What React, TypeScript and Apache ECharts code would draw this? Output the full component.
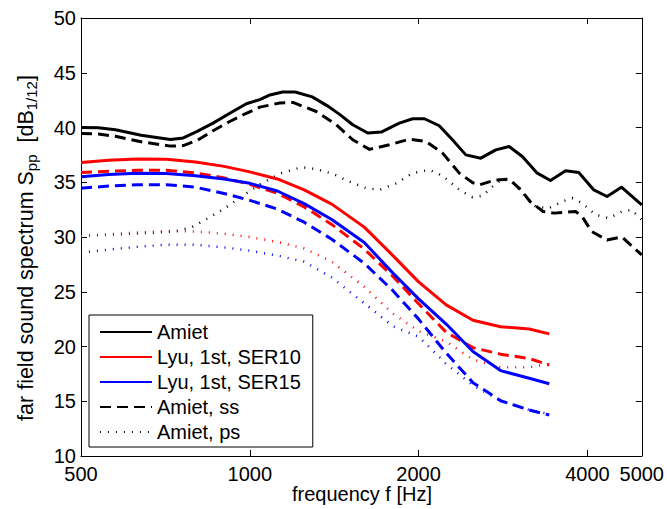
import React, { useEffect, useRef } from 'react';
import * as echarts from 'echarts';

// ---------- axis ticks ----------
const X_TICKS = [500, 1000, 2000, 4000, 5000];
const X_MIN = 500;
const X_MAX = 5000;
const Y_MIN = 10;
const Y_MAX = 50;
const Y_STEP = 5;

// ---------- Amiet (black) ----------
const AMIET_F = [500, 537, 576, 640, 722, 761, 804, 860, 921, 986, 1042, 1086, 1144, 1205, 1292, 1373, 1446, 1526, 1623, 1715, 1848, 1952, 2048, 2177, 2298, 2428, 2582, 2746, 2900, 3062, 3256, 3438, 3657, 3861, 4107, 4335, 4600, 5000];
const AMIET_V = [40.0, 39.97, 39.8, 39.3, 38.9, 39.05, 39.63, 40.4, 41.3, 42.17, 42.55, 42.97, 43.24, 43.24, 42.8, 42.0, 41.2, 40.25, 39.5, 39.58, 40.4, 40.8, 40.8, 40.16, 38.88, 37.5, 37.2, 37.96, 38.27, 37.35, 35.83, 35.16, 36.04, 35.89, 34.3, 33.7, 34.55, 32.93];

const AMIET_SS_F = [500, 537, 576, 640, 722, 761, 808, 860, 921, 986, 1042, 1130, 1194, 1314, 1426, 1526, 1634, 1774, 1925, 2062, 2207, 2364, 2495, 2565, 2740, 2900, 3045, 3160, 3335, 3490, 3810, 3914, 4070, 4335, 4611, 5000];
const AMIET_SS_V = [39.45, 39.4, 39.2, 38.7, 38.3, 38.35, 38.85, 39.7, 40.55, 41.3, 41.86, 42.23, 42.29, 41.46, 40.25, 38.88, 38.0, 38.42, 38.94, 38.72, 37.66, 35.83, 34.97, 34.76, 35.2, 35.28, 34.3, 33.24, 32.33, 32.18, 32.33, 31.87, 30.5, 29.73, 30.0, 28.36];

const AMIET_PS_F = [500, 560, 641, 736, 788, 843, 903, 967, 1049, 1139, 1236, 1314, 1406, 1506, 1612, 1703, 1823, 1952, 2089, 2207, 2364, 2495, 2600, 2708, 2820, 2940, 3062, 3233, 3415, 3606, 3757, 3914, 4136, 4366, 4611, 4800, 5000];
const AMIET_PS_V = [30.1, 30.2, 30.34, 30.5, 30.9, 31.72, 32.63, 33.7, 34.9, 35.83, 36.38, 36.2, 35.77, 35.06, 34.46, 34.3, 34.9, 35.83, 36.13, 35.6, 34.3, 33.64, 33.76, 34.6, 35.28, 35.06, 34.0, 32.78, 32.63, 33.24, 33.55, 33.09, 32.02, 31.72, 32.33, 32.48, 31.56];

// ---------- Lyu, 1st order (red = SER10, blue = SER15) ----------
const LYU_F = [500, 560, 630, 710, 800, 900, 1000, 1120, 1250, 1400, 1600, 1800, 2000, 2240, 2500, 2800, 3150, 3420];
const SER10_V = [36.8, 37.0, 37.13, 37.1, 36.85, 36.45, 35.95, 35.3, 34.3, 33.0, 30.9, 28.3, 25.9, 23.8, 22.4, 21.8, 21.6, 21.15];
const SER15_V = [35.5, 35.7, 35.82, 35.8, 35.6, 35.3, 34.9, 34.2, 33.05, 31.6, 29.5, 26.7, 24.35, 22.05, 19.55, 17.8, 17.1, 16.6];
const SER10_SS_V = [35.89, 36.0, 36.1, 36.1, 35.85, 35.4, 34.8, 34.0, 32.75, 31.15, 28.9, 26.4, 23.9, 21.3, 19.9, 19.3, 18.9, 18.3];
const SER15_SS_V = [34.46, 34.65, 34.78, 34.78, 34.55, 33.97, 33.35, 32.55, 31.35, 29.8, 27.6, 25.1, 22.5, 19.4, 16.7, 15.05, 14.2, 13.74];
const SER10_PS_V = [30.04, 30.25, 30.4, 30.55, 30.5, 30.3, 30.0, 29.55, 28.95, 27.75, 25.45, 23.0, 21.4, 20.45, 18.8, 18.1, 18.1, 18.4];
const SER15_PS_V = [28.57, 28.85, 29.1, 29.3, 29.3, 29.05, 28.75, 28.3, 27.75, 26.3, 23.95, 21.85, 20.9, 18.4, 16.45, 15.05, 14.2, 13.85];

const LEGEND_NAMES = ['Amiet', 'Lyu, 1st, SER10', 'Lyu, 1st, SER15', 'Amiet, ss', 'Amiet, ps'];

const FONT = 'Liberation Sans, Arial, Helvetica, sans-serif';
const lg = (f: number) => Math.log2(f);
const pts = (fs: number[], vs: number[]) => fs.map((f, i) => [lg(f), vs[i]]);

const DASH = [11, 6];
const DOT = [1, 7];

function line(name: string, fs: number[], vs: number[], color: string, kind: 'solid' | 'dash' | 'dot', z: number) {
  const type: any = kind === 'solid' ? 'solid' : kind === 'dash' ? DASH : DOT;
  return {
    type: 'line',
    name,
    data: pts(fs, vs),
    xAxisIndex: 0,
    yAxisIndex: 0,
    symbol: 'none',
    showSymbol: false,
    silent: true,
    z,
    itemStyle: { color },
    lineStyle: { color, width: kind === 'dot' ? 2.5 : 3, type, cap: 'butt', join: 'round' },
  };
}

export default function App() {
  const ref = useRef<HTMLDivElement>(null);

  useEffect(() => {
    const chart = echarts.init(ref.current!, null, { renderer: 'svg' });

    const xBase: any = {
      type: 'value',
      min: lg(X_MIN),
      max: lg(X_MAX),
      splitLine: { show: false },
      axisLine: { show: true, onZero: false, lineStyle: { color: '#000', width: 1 } },
      axisTick: { show: true, inside: true, length: 6, customValues: X_TICKS.map(lg), lineStyle: { color: '#000', width: 1 } },
    };
    const yBase: any = {
      type: 'value',
      min: Y_MIN,
      max: Y_MAX,
      interval: Y_STEP,
      splitLine: { show: false },
      axisLine: { show: true, onZero: false, lineStyle: { color: '#000', width: 1 } },
      axisTick: { show: true, inside: true, length: 6, lineStyle: { color: '#000', width: 1 } },
    };

    chart.setOption({
      animation: false,
      backgroundColor: '#fff',
      textStyle: { fontFamily: FONT },
      grid: { left: 81, top: 18, width: 562, height: 438, containLabel: false },
      xAxis: [
        {
          ...xBase,
          position: 'bottom',
          axisLabel: {
            show: true,
            customValues: X_TICKS.map(lg),
            formatter: (v: number) => String(Math.round(Math.pow(2, v))),
            fontSize: 20,
            color: '#000',
            fontFamily: FONT,
            margin: 8,
            showMinLabel: true,
            showMaxLabel: true,
            hideOverlap: false,
          },
        },
        { ...xBase, position: 'top', axisLabel: { show: false } },
      ],
      yAxis: [
        {
          ...yBase,
          position: 'left',
          axisLabel: { show: true, fontSize: 20, color: '#000', fontFamily: FONT, margin: 5, lineHeight: 18 },
        },
        { ...yBase, position: 'right', axisLabel: { show: false } },
      ],
      legend: {
        data: LEGEND_NAMES,
        orient: 'vertical',
        left: 89,
        top: 315,
        itemWidth: 52,
        itemHeight: 14,
        itemGap: 5,
        padding: [7, 12, 5, 10],
        borderColor: '#000',
        borderWidth: 1,
        borderRadius: 0,
        backgroundColor: '#fff',
        selectedMode: false,
        itemStyle: { opacity: 0, borderWidth: 0 },
        textStyle: { fontSize: 20, color: '#000', fontFamily: FONT, lineHeight: 20 },
      },
      graphic: [
        {
          type: 'text',
          x: 26,
          y: 248,
          rotation: Math.PI / 2,
          style: {
            text: '{a|far field sound spectrum S}{s|pp}{a|  [dB}{s|1/12}{a|]}',
            align: 'center',
            verticalAlign: 'middle',
            rich: {
              a: { fontSize: 21.5, fontFamily: FONT, fill: '#000', lineHeight: 26, verticalAlign: 'middle' },
              s: { fontSize: 15, fontFamily: FONT, fill: '#000', lineHeight: 15, verticalAlign: 'bottom', padding: [12, 0, 0, 0] },
            },
          },
        },
        {
          type: 'text',
          x: 362,
          y: 494,
          style: {
            text: 'frequency f [Hz]',
            fontSize: 20,
            fontFamily: FONT,
            fill: '#000',
            align: 'center',
            verticalAlign: 'middle',
          },
        },
      ],
      series: [
        line('Amiet, ps', AMIET_PS_F, AMIET_PS_V, '#000', 'dot', 2),
        line('Lyu SER10, ps', LYU_F, SER10_PS_V, '#ff0000', 'dot', 2),
        line('Lyu SER15, ps', LYU_F, SER15_PS_V, '#0000ff', 'dot', 2),
        line('Amiet, ss', AMIET_SS_F, AMIET_SS_V, '#000', 'dash', 3),
        line('Lyu SER10, ss', LYU_F, SER10_SS_V, '#ff0000', 'dash', 3),
        line('Lyu SER15, ss', LYU_F, SER15_SS_V, '#0000ff', 'dash', 3),
        line('Amiet', AMIET_F, AMIET_V, '#000', 'solid', 4),
        line('Lyu, 1st, SER10', LYU_F, SER10_V, '#ff0000', 'solid', 4),
        line('Lyu, 1st, SER15', LYU_F, SER15_V, '#0000ff', 'solid', 4),
      ],
    });

    return () => chart.dispose();
  }, []);

  return (
    <div
      ref={ref}
      style={{ position: 'fixed', left: 0, top: 0, width: 667, height: 509, background: '#fff' }}
    />
  );
}
